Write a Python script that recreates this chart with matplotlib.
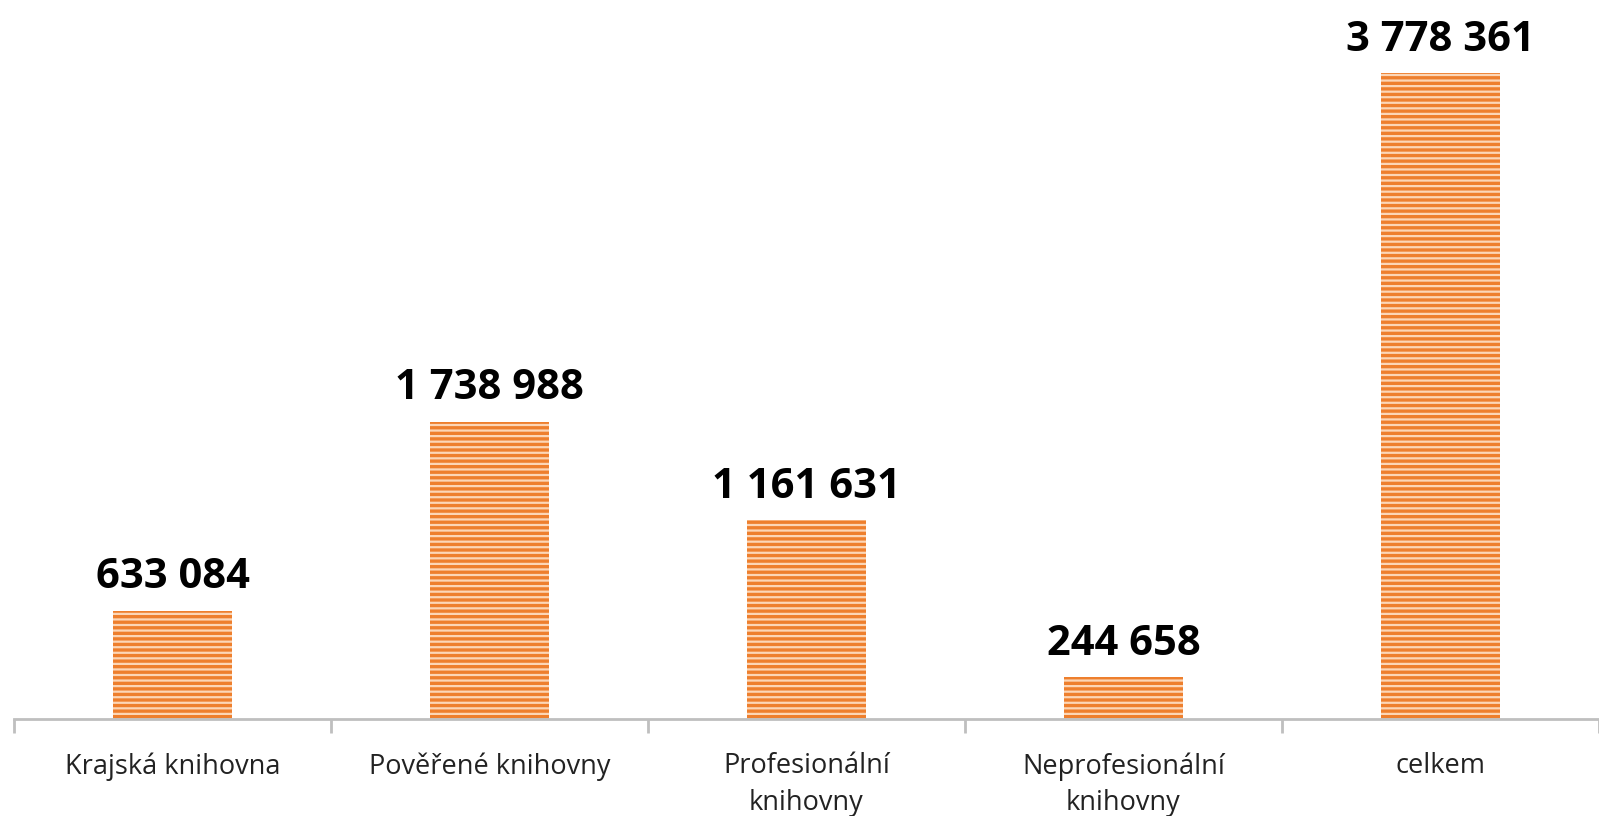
import numpy as np
import matplotlib.pyplot as plt

plt.rcParams['font.family'] = ['Open Sans', 'DejaVu Sans']

# data
categories = ['Krajská knihovna', 'Pověřené knihovny', 'Profesionální\nknihovny',
              'Neprofesionální\nknihovny', 'celkem']
values = [633084, 1738988, 1161631, 244658, 3778361]

fig = plt.figure(figsize=(15.99, 8.16), dpi=100)
ax = fig.add_axes([0.00875, 0.1189, 0.99125, 0.838])

x = np.arange(len(categories))
plt.rcParams['hatch.linewidth'] = 1.6
bars = ax.bar(x, values, width=0.375, color='#EE7F2D', edgecolor='#FCD6B6',
              linewidth=0, hatch='---')

for xi, v in zip(x, values):
    label = f'{v:,}'.replace(',', ' ')
    ax.annotate(label, (xi, v), xytext=(0, 9), textcoords='offset points',
                ha='center', va='bottom', fontsize=30, fontweight='bold',
                color='black')

ax.set_xlim(-0.5, len(categories) - 0.5)
ax.set_ylim(0, 4000000)

for s in ['top', 'right', 'left']:
    ax.spines[s].set_visible(False)
ax.spines['bottom'].set_color('#BFBFBF')
ax.spines['bottom'].set_linewidth(2)
ax.set_yticks([])

ax.set_xticks(x)
ax.set_xticklabels(categories, fontsize=19.5, color='#222222', linespacing=1.4)
ax.tick_params(axis='x', which='major', length=0, pad=24)
ax.set_xticks(np.arange(-0.5, len(categories)), minor=True)
ax.tick_params(axis='x', which='minor', length=10, width=2, color='#BFBFBF')
for t in ax.get_xticklabels():
    t.set_va('top')

fig.savefig('out.png', dpi=100)
